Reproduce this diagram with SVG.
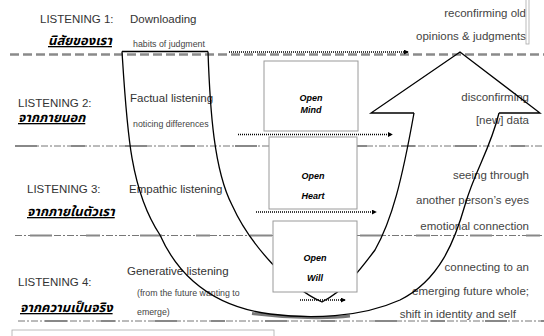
<svg xmlns="http://www.w3.org/2000/svg" width="544" height="336" viewBox="0 0 544 336">
  <defs>
    <marker id="tip" viewBox="0 0 6 6" refX="5" refY="3" markerWidth="5" markerHeight="5" orient="auto" markerUnits="userSpaceOnUse">
      <path d="M0,0 L6,3 L0,6 Z" fill="#000"/>
    </marker>
    <style>
      .lbl { font-family: 'Liberation Sans', Arial, sans-serif; font-size: 11.5px; fill: #333; }
      .sub { font-family: 'Liberation Sans', Arial, sans-serif; font-size: 8.8px; fill: #444; }
      .rt { font-family: 'Liberation Sans', Arial, sans-serif; font-size: 11.5px; fill: #444; text-anchor: end; }
      .th { font-family: 'Noto Sans Thai', 'Noto Sans Thai Looped', 'Loma', 'Garuda', 'Tlwg Typo', 'Noto Sans', sans-serif; font-size: 13px; font-weight: bold; font-style: italic; fill: #000; text-decoration: underline; }
      .boxtxt { font-family: 'Liberation Sans', Arial, sans-serif; font-size: 9px; font-weight: 900; font-style: italic; fill: #000; text-anchor: middle; }
      .box { fill: #fff; stroke: #9a9a9a; stroke-width: 1; }
      .sep1 { fill: none; stroke: #8a8a8a; stroke-width: 2.5; stroke-dasharray: 9 4; }
      .sep { fill: none; stroke: #777; stroke-width: 1; stroke-dasharray: 7 2 2 2; }
      .sepb { fill: none; stroke: #888; stroke-width: 1.8; stroke-dasharray: 22 34 14 40; }
      .u { fill: none; stroke: #000; stroke-width: 1.3; }
      .dot { fill: none; stroke: #000; stroke-width: 1.3; stroke-dasharray: 1 1; }
    </style>
  </defs>

  <!-- level labels -->
  <g id="level-1">
    <text class="lbl" x="40" y="23">LISTENING 1:</text>
    <text class="lbl" x="130" y="23">Downloading</text>
    <text class="th" x="48" y="45">นิสัยของเรา</text>
    <text class="sub" x="133" y="47">habits of judgment</text>
    <text class="rt" x="526" y="17">reconfirming old</text>
    <text class="rt" x="526" y="40">opinions &amp; judgments</text>
  </g>
  <g id="level-2">
    <text class="lbl" x="18" y="107">LISTENING 2:</text>
    <text class="th" x="18" y="122">จากภายนอก</text>
    <text class="lbl" x="130" y="102">Factual listening</text>
    <text class="sub" x="133" y="127">noticing differences</text>
    <text class="rt" x="529" y="101">disconfirming</text>
    <text class="rt" x="529" y="124">[new] data</text>
  </g>
  <g id="level-3">
    <text class="lbl" x="27" y="193">LISTENING 3:</text>
    <text class="th" x="27" y="216">จากภายในตัวเรา</text>
    <text class="lbl" x="129" y="193">Empathic listening</text>
    <text class="rt" x="529" y="179">seeing through</text>
    <text class="rt" x="529" y="204">another person’s eyes</text>
    <text class="rt" x="529" y="230">emotional connection</text>
  </g>
  <g id="level-4">
    <text class="lbl" x="18" y="286">LISTENING 4:</text>
    <text class="th" x="20" y="312">จากความเป็นจริง</text>
    <text class="lbl" x="127" y="275">Generative listening</text>
    <text class="sub" x="137" y="296">(from the future wanting to</text>
    <text class="sub" x="137" y="315">emerge)</text>
    <text class="rt" x="529" y="271">connecting to an</text>
    <text class="rt" x="529" y="295">emerging future whole;</text>
    <text class="rt" x="516" y="318">shift in identity and self</text>
  </g>

  <!-- level separators -->
  <g id="separators">
    <line class="sep1" x1="10" y1="54.5" x2="544" y2="54.5"/>
    <line class="sep" x1="15" y1="146" x2="544" y2="146"/>
    <line class="sepb" x1="15" y1="146" x2="544" y2="146"/>
    <line class="sep" x1="15" y1="235.5" x2="544" y2="235.5"/>
    <line class="sepb" x1="30" y1="235.5" x2="544" y2="235.5"/>
    <line class="sep" x1="18" y1="321" x2="544" y2="321"/>
    <line class="sepb" x1="45" y1="321" x2="544" y2="321"/>
  </g>

  <!-- text frames -->
  <g id="frames">
    <rect x="526" y="-1" width="3" height="45" fill="none" stroke="#aaa" stroke-width="0.8"/>
    <rect x="12" y="330" width="262" height="10" fill="none" stroke="#aaa" stroke-width="0.8"/>
  </g>

  <!-- U-shaped path of the journey -->
  <g id="u-arrow">
    <path d="M252,313.5 C290,318.5 330,318.5 350,316" fill="none" stroke="#777" stroke-width="3"/>
    <line class="u" x1="122" y1="51.5" x2="208" y2="51.5"/>
    <path class="u" d="M122,51.5 C127,130 130,190 160,235 C172,262 200,305 270,314 C310,319 360,318 400,300 C440,280 455,240 465,205 C475,170 490,150 499,113"/>
    <path class="u" d="M208,51.5 C210,110 214,170 232,205 C250,245 290,288 322,302 C345,290 360,270 375,250 C392,220 402,180 414,113"/>
    <path class="u" d="M414,113 L371,113 L460,52 L540,113 L499,113" stroke-width="1.5"/>
  </g>

  <!-- openings -->
  <g id="open-mind">
    <rect class="box" x="264" y="61" width="94" height="70"/>
    <text class="boxtxt" x="311" y="101">Open</text>
    <text class="boxtxt" x="311" y="113">Mind</text>
  </g>
  <g id="open-heart">
    <rect class="box" x="269" y="137" width="88" height="72"/>
    <text class="boxtxt" x="313" y="179">Open</text>
    <text class="boxtxt" x="313" y="199">Heart</text>
  </g>
  <g id="open-will">
    <rect class="box" x="273" y="221" width="84" height="71"/>
    <text class="boxtxt" x="315" y="261">Open</text>
    <text class="boxtxt" x="315" y="281">Will</text>
  </g>

  <!-- connectors -->
  <g id="connectors">
    <line class="dot" x1="229" y1="52" x2="408" y2="52" marker-end="url(#tip)"/>
    <line class="dot" x1="238" y1="134.5" x2="392" y2="134.5" marker-end="url(#tip)"/>
    <line class="dot" x1="256" y1="212" x2="376" y2="212" marker-end="url(#tip)"/>
    <line class="dot" x1="300" y1="300" x2="345" y2="300" marker-end="url(#tip)"/>
  </g>
</svg>
